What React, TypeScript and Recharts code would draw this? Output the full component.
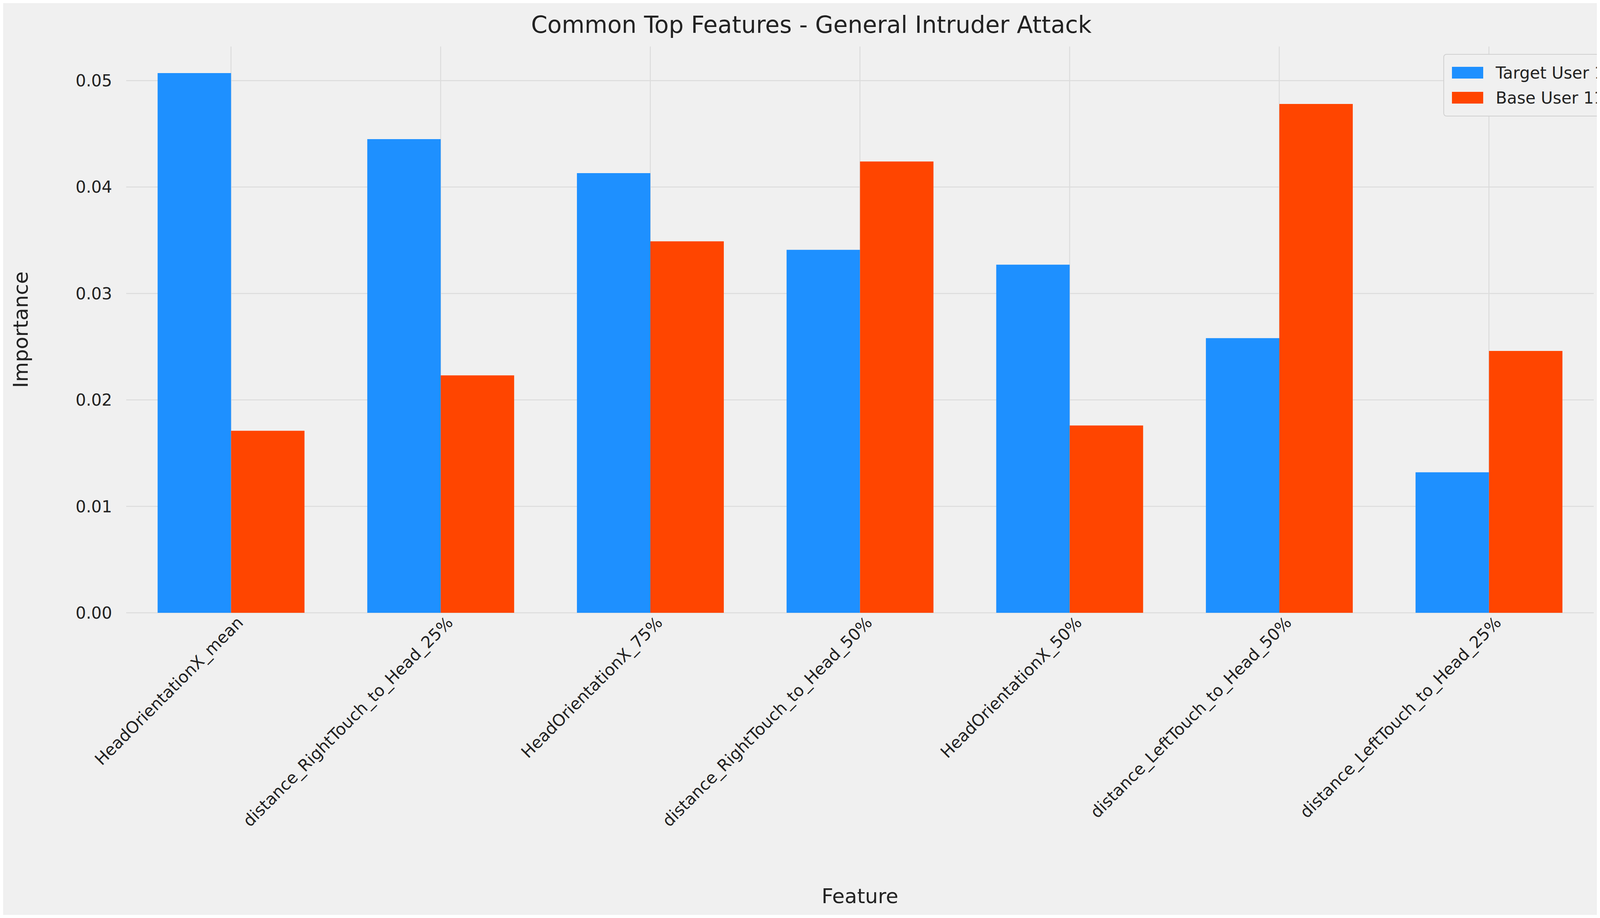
import React from "react";
import {
  BarChart,
  Bar,
  XAxis,
  YAxis,
  CartesianGrid,
  Label,
} from "recharts";

const features = [
  "HeadOrientationX_mean",
  "distance_RightTouch_to_Head_25%",
  "HeadOrientationX_75%",
  "distance_RightTouch_to_Head_50%",
  "HeadOrientationX_50%",
  "distance_LeftTouch_to_Head_50%",
  "distance_LeftTouch_to_Head_25%",
];
const targetUser = [0.0507, 0.0445, 0.0413, 0.0341, 0.0327, 0.0258, 0.0132];
const baseUser = [0.0171, 0.0223, 0.0349, 0.0424, 0.0176, 0.0478, 0.0246];
const yTicks = [0, 0.01, 0.02, 0.03, 0.04, 0.05];

const data = features.map((f, i) => ({
  feature: f,
  target: targetUser[i],
  base: baseUser[i],
}));

const FONT = "'DejaVu Sans', sans-serif";
const BLUE = "#1E90FF";
const RED = "#FF4500";

const XTick = (props: any) => {
  const { x, y, payload } = props;
  return (
    <g transform={`translate(${x + 14},${y})`}>
      <text
        textAnchor="end"
        transform="rotate(-45)"
        fontSize={42}
        fontFamily={FONT}
        fill="#222"
        dy={28}
      >
        {payload.value}
      </text>
    </g>
  );
};

export default function App() {
  return (
    <div style={{ position: "relative", width: 4138, height: 2333, background: "#f0f0f0" }}>
      <div
        style={{
          position: "absolute",
          top: 20,
          width: "100%",
          textAlign: "center",
          fontFamily: FONT,
          fontSize: 60,
          color: "#222",
        }}
      >
        Common Top Features - General Intruder Attack
      </div>
      <div
        style={{
          position: "absolute",
          top: 130,
          right: 16,
          background: "#f0f0f0",
          border: "2px solid #d0d0d0",
          borderRadius: 8,
          padding: "14px 20px",
          fontFamily: FONT,
          fontSize: 42,
          color: "#222",
          zIndex: 2,
        }}
      >
        {[
          ["Target User 1", BLUE],
          ["Base User 11", RED],
        ].map(([name, c]) => (
          <div key={name} style={{ display: "flex", alignItems: "center", height: 64 }}>
            <div style={{ width: 80, height: 30, background: c, marginRight: 32 }} />
            {name}
          </div>
        ))}
      </div>
      <BarChart
        width={4138}
        height={2333}
        data={data}
        margin={{ top: 111, right: 66, left: 0, bottom: 0 }}
        barCategoryGap="15%"
        barGap={0}
      >
        <CartesianGrid stroke="#dcdcdc" strokeWidth={2.5} syncWithTicks />
        <XAxis
          dataKey="feature"
          height={773}
          tick={<XTick />}
          tickLine={false}
          axisLine={false}
          interval={0}
        >
          <Label
            value="Feature"
            position="insideBottom"
            offset={30}
            style={{ fontSize: 52, fontFamily: FONT, fill: "#222" }}
          />
        </XAxis>
        <YAxis
          width={315}
          domain={[0, 0.0532]}
          ticks={yTicks}
          tickFormatter={(v: number) => v.toFixed(2)}
          tick={{ fontSize: 42, fontFamily: FONT, fill: "#222" }}
          tickLine={false}
          axisLine={false}
          tickMargin={30}
        >
          <Label
            value="Importance"
            angle={-90}
            position="insideLeft"
            offset={45}
            style={{ fontSize: 52, fontFamily: FONT, fill: "#222", textAnchor: "middle" }}
          />
        </YAxis>
        <Bar dataKey="target" name="Target User 1" fill={BLUE} isAnimationActive={false} />
        <Bar dataKey="base" name="Base User 11" fill={RED} isAnimationActive={false} />
      </BarChart>
    </div>
  );
}
